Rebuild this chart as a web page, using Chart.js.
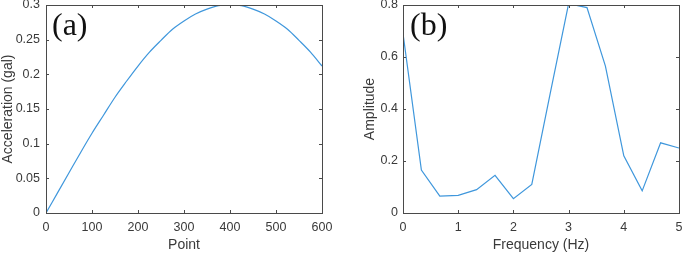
<!DOCTYPE html>
<html lang="en">
<head>
    <meta charset="UTF-8">
    <title>Acceleration and amplitude spectrum</title>
    <script src="https://cdn.jsdelivr.net/npm/chart.js"></script>
    <style>
        body { margin: 0; background: #fff; }
        .panel { position: absolute; top: 0; }
    </style>
</head>
<body>
    <div class="panel" style="left:0px"><canvas id="chartA" width="340" height="254"></canvas></div>
    <div class="panel" style="left:345px"><canvas id="chartB" width="340" height="254"></canvas></div>

    <script>
        // (a) acceleration vs point, every 25 points
        const pointX = [0, 25, 50, 75, 100, 125, 150, 175, 200, 225, 250, 275, 300,
                        325, 350, 375, 400, 425, 450, 475, 500, 525, 550, 575, 600];
        const acceleration = [0, 0.029, 0.058, 0.087, 0.115, 0.141, 0.167, 0.190, 0.212, 0.232, 0.249, 0.265, 0.277,
                              0.287, 0.294, 0.299, 0.300, 0.299, 0.294, 0.287, 0.277, 0.265, 0.249, 0.232, 0.212];

        // (b) amplitude spectrum
        const frequency = [0, 0.333, 0.667, 1, 1.333, 1.667, 2, 2.333, 2.667, 3, 3.333, 3.667, 4, 4.333, 4.667, 5];
        const amplitude = [0.69, 0.165, 0.065, 0.068, 0.09, 0.145, 0.055, 0.11, 0.46, 0.805, 0.79, 0.565, 0.22, 0.085, 0.27, 0.25];

        const textColor = '#3a3a3a';
        const frameColor = '#4a4a4a';
        const lineColor = '#3f97dc';
        const tickFont = { family: '"Liberation Sans", Arial, sans-serif', size: 12.5 };
        const titleFont = { family: '"Liberation Sans", Arial, sans-serif', size: 14 };

        // MATLAB-like box with inward ticks plus the panel letter
        const boxPlugin = {
            id: 'box',
            afterDraw(chart, args, opts) {
                const ctx = chart.ctx;
                const a = chart.chartArea;
                const xs = chart.scales.x, ys = chart.scales.y;
                ctx.save();
                ctx.strokeStyle = frameColor;
                ctx.lineWidth = 1;
                ctx.strokeRect(Math.round(a.left) + 0.5, Math.round(a.top) + 0.5,
                               Math.round(a.right - a.left), Math.round(a.bottom - a.top));
                ctx.beginPath();
                xs.ticks.forEach(t => {
                    const px = Math.round(xs.getPixelForValue(t.value)) + 0.5;
                    ctx.moveTo(px, a.bottom); ctx.lineTo(px, a.bottom - 3);
                    ctx.moveTo(px, a.top); ctx.lineTo(px, a.top + 3);
                });
                ys.ticks.forEach(t => {
                    const py = Math.round(ys.getPixelForValue(t.value)) + 0.5;
                    ctx.moveTo(a.left, py); ctx.lineTo(a.left + 3, py);
                    ctx.moveTo(a.right, py); ctx.lineTo(a.right - 3, py);
                });
                ctx.stroke();

                ctx.fillStyle = '#111';
                ctx.font = '32px "Liberation Serif", "Times New Roman", serif';
                ctx.textBaseline = 'alphabetic';
                ctx.fillText(opts.label, a.left + opts.dx, 35);
                ctx.restore();
            }
        };

        function makeChart(id, xData, yData, cfg) {
            return new Chart(document.getElementById(id), {
                type: 'line',
                data: {
                    datasets: [{
                        data: xData.map((x, i) => ({ x: x, y: yData[i] })),
                        borderColor: lineColor,
                        borderWidth: 1.2,
                        pointRadius: 0,
                        cubicInterpolationMode: cfg.smooth ? 'monotone' : 'default',
                        tension: 0,
                        fill: false,
                    }],
                },
                options: {
                    responsive: false,
                    animation: false,
                    layout: { padding: { top: 5, right: cfg.padRight, left: 0, bottom: 0 } },
                    plugins: {
                        legend: { display: false },
                        tooltip: { enabled: false },
                        box: { label: cfg.label, dx: cfg.labelDx },
                    },
                    scales: {
                        x: {
                            type: 'linear',
                            min: cfg.xMin, max: cfg.xMax,
                            grid: { display: false, drawTicks: false },
                            border: { display: false },
                            ticks: { stepSize: cfg.xStep, color: textColor, font: tickFont, padding: 7, maxRotation: 0 },
                            title: { display: true, text: cfg.xTitle, color: textColor, font: titleFont, padding: { top: 0, bottom: 0 } },
                            afterFit(scale) {
                                scale.height = 41;
                                scale.paddingLeft = 0; scale.paddingRight = 0;
                            },
                        },
                        y: {
                            type: 'linear',
                            min: 0, max: cfg.yMax,
                            grid: { display: false, drawTicks: false },
                            border: { display: false },
                            ticks: {
                                stepSize: cfg.yStep, color: textColor, font: tickFont, padding: cfg.yTickPad,
                                callback: v => String(parseFloat(v.toFixed(3))),
                            },
                            title: { display: true, text: cfg.yTitle, color: textColor, font: titleFont, padding: { top: cfg.yTitlePad, bottom: 0 } },
                            afterFit(scale) {
                                scale.width = cfg.yWidth;
                                scale.paddingTop = 0; scale.paddingBottom = 0;
                            },
                        },
                    },
                },
                plugins: [boxPlugin],
            });
        }

        makeChart('chartA', pointX, acceleration, {
            xMin: 0, xMax: 600, xStep: 100, yMax: 0.3, yStep: 0.05,
            xTitle: 'Point', yTitle: 'Acceleration (gal)',
            yWidth: 46, padRight: 18, yTickPad: 6, yTitlePad: 0,
            label: '(a)', labelDx: 6, smooth: true,
        });

        makeChart('chartB', frequency, amplitude, {
            xMin: 0, xMax: 5, xStep: 1, yMax: 0.8, yStep: 0.2,
            xTitle: 'Frequency (Hz)', yTitle: 'Amplitude',
            yWidth: 58, padRight: 6, yTickPad: 5, yTitlePad: 17,
            label: '(b)', labelDx: 7, smooth: false,
        });
    </script>
</body>
</html>
